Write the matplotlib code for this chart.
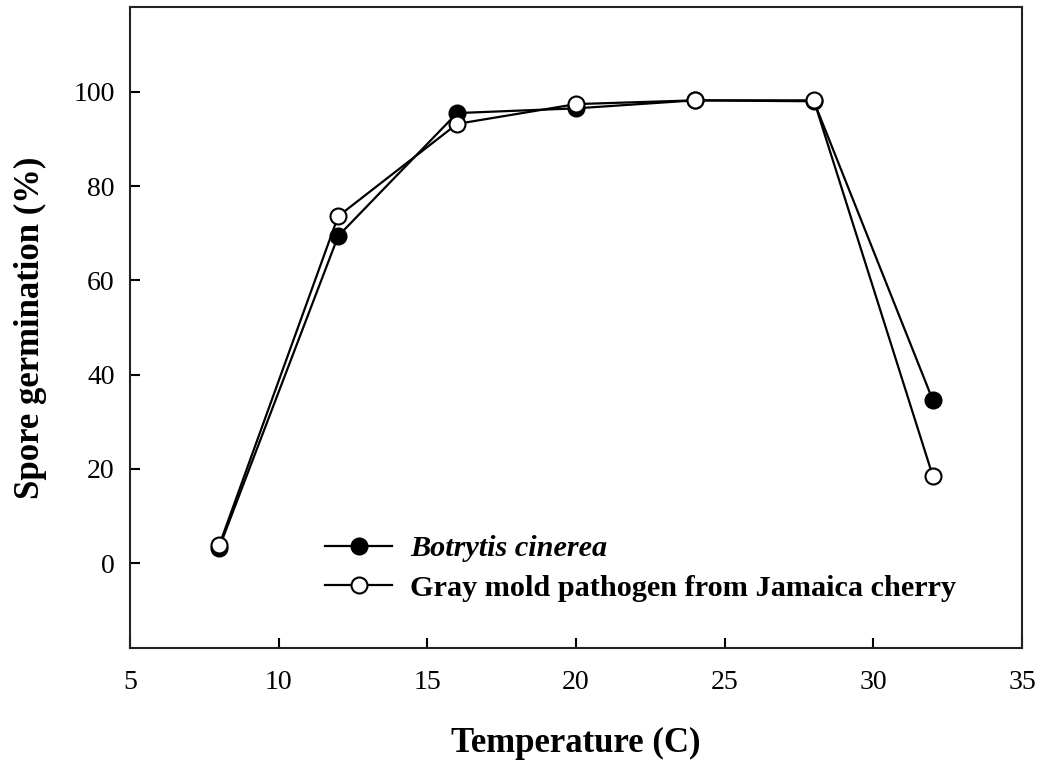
import matplotlib
matplotlib.use("Agg")
from matplotlib import pyplot as plt

plt.rcParams["font.family"] = ["Liberation Serif", "DejaVu Serif"]

temp = [8, 12, 16, 20, 24, 28, 32]
botrytis = [3.3, 69.4, 95.5, 96.5, 98.2, 98.0, 34.6]
jamaica = [3.8, 73.6, 93.2, 97.4, 98.2, 98.2, 18.5]

fig = plt.figure(figsize=(10.42, 7.63), dpi=100)
ax = fig.add_axes([0.1248, 0.1507, 0.856, 0.8401])

ax.plot(temp, botrytis, color="black", lw=1.6, marker="o", ms=11.5,
        mfc="black", mec="black", mew=1.5, label="Botrytis cinerea", zorder=3)
ax.plot(temp, jamaica, color="black", lw=1.6, marker="o", ms=11.5,
        mfc="white", mec="black", mew=1.5,
        label="Gray mold pathogen from Jamaica cherry", zorder=4)

ax.set_xlim(5, 35)
ax.set_ylim(-18, 118)
ax.set_xticks([5, 10, 15, 20, 25, 30, 35])
ax.set_yticks([0, 20, 40, 60, 80, 100])

for s in ax.spines.values():
    s.set_linewidth(1.5)
    s.set_color("#222222")

ax.tick_params(axis="x", direction="in", length=7, width=1.5, labelsize=20, pad=16)
ax.tick_params(axis="y", direction="in", length=7, width=1.5, labelsize=20, pad=11)

ax.set_xlabel("Temperature (C)", fontsize=25, fontweight="bold", labelpad=23)
ax.set_ylabel("Spore germination (%)", fontsize=25, fontweight="bold", labelpad=19)

leg = ax.legend(loc="center left", bbox_to_anchor=(0.2186, 0.1240), frameon=False,
                borderpad=0, borderaxespad=0, handlelength=2.22, handletextpad=0.6,
                labelspacing=0.4, prop={"size": 21.8, "weight": "bold"})
leg.get_texts()[0].set_fontstyle("italic")

fig.savefig("out.png", dpi=100)
